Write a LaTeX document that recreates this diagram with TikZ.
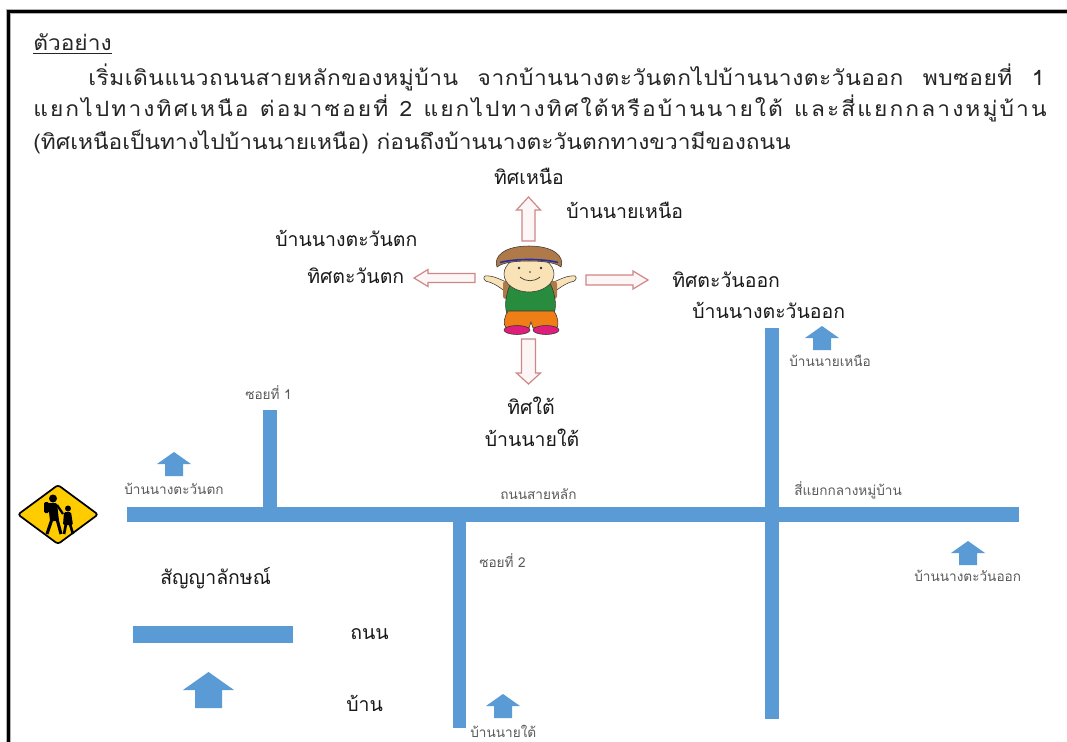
\documentclass[tikz,border=0pt]{standalone}
\usepackage{fontspec}
\setmainfont[Script=Thai]{Loma}
\newfontfamily\widethai[Script=Thai,FakeStretch=1.08]{Loma}
\newfontfamily\spreadthaiA[Script=Thai,FakeStretch=1.08,LetterSpace=2.5]{Loma}
\newfontfamily\spreadthaiB[Script=Thai,FakeStretch=1.08,LetterSpace=10]{Loma}
\definecolor{roadblue}{RGB}{91,155,213}
\definecolor{dirred}{RGB}{205,135,135}
\definecolor{dirfill}{RGB}{253,246,246}
\definecolor{labelgray}{RGB}{90,90,90}
\definecolor{signyellow}{RGB}{255,204,0}
\definecolor{skin}{RGB}{248,226,182}
\definecolor{hatbrown}{RGB}{176,122,72}
\definecolor{shirtgreen}{RGB}{40,140,62}
\definecolor{shortsorange}{RGB}{240,126,22}
\definecolor{shoepink}{RGB}{222,30,122}
\definecolor{bandblue}{RGB}{36,48,160}
\begin{document}
\begin{tikzpicture}[x=0.75pt,y=-0.75pt,
  road/.style={fill=roadblue},
  dirarrow/.style={draw=dirred, line width=0.9pt, fill=dirfill, line join=miter},
  maintext/.style={font=\widethai\fontsize{15.8}{18}\selectfont, inner sep=0pt, anchor=base west, text=black!85},
  midlabel/.style={font=\fontsize{14.6}{17}\selectfont, inner sep=0pt, text=black!90},
  smalllabel/.style={font=\fontsize{10.2}{12}\selectfont, inner sep=0pt, text=labelgray},
  outline/.style={draw=black!80, line width=0.4pt},
  house/.pic={\fill[roadblue] (0,0) -- (17,12) -- (9,12) -- (9,24) -- (-9,24) -- (-9,12) -- (-17,12) -- cycle;}
]
\useasboundingbox (0,0) rectangle (1067,742);
\fill[white] (0,0) rectangle (1067,742);

% page frame
\draw[black!30, line width=4pt] (8.5,742) -- (8.5,11.5) -- (1067,11.5);
\draw[black, line width=2.4pt] (8.5,742) -- (8.5,11.5) -- (1067,11.5);

% heading and paragraph
\node[maintext] (title) at (33,51) {\underline{ตัวอย่าง}};
\node[maintext] (line1) at (88,85) {\spreadthaiA\fontsize{15.8}{18}\selectfont\makebox[717pt][s]{เริ่มเดินแนวถนนสายหลักของหมู่บ้าน จากบ้านนางตะวันตกไปบ้านนางตะวันออก พบซอยที่ 1}};
\node[maintext] (line2) at (33,117) {\spreadthaiB\fontsize{15.8}{18}\selectfont\makebox[760pt][s]{แยกไปทางทิศเหนือ ต่อมาซอยที่ 2 แยกไปทางทิศใต้หรือบ้านนายใต้ และสี่แยกกลางหมู่บ้าน}};
\node[maintext] (line3) at (33,149) {(ทิศเหนือเป็นทางไปบ้านนายเหนือ) ก่อนถึงบ้านนางตะวันตกทางขวามีของถนน};

% compass arrows
\draw[dirarrow] (528.5,197) -- (540.5,210) -- (535,210) -- (535,241) -- (522,241) -- (522,210) -- (516.5,210) -- cycle;
\draw[dirarrow] (414,278) -- (428,269.5) -- (428,273.5) -- (475,273.5) -- (475,282.5) -- (428,282.5) -- (428,286.5) -- cycle;
\draw[dirarrow] (648,280) -- (633,271) -- (633,275) -- (586,275) -- (586,285) -- (633,285) -- (633,289) -- cycle;
\draw[dirarrow] (528.5,384) -- (540.5,373) -- (535.5,373) -- (535.5,339) -- (521.5,339) -- (521.5,373) -- (516.5,373) -- cycle;

% the walking child
\filldraw[fill=skin, outline] (511,284) .. controls (501,280) and (493,275) .. (485,276) .. controls (482,278) and (485,282) .. (489,282) .. controls (496,284) and (503,290) .. (510,295) -- cycle;
\filldraw[fill=skin, outline] (549,284) .. controls (559,280) and (567,275) .. (575,276) .. controls (578,278) and (575,282) .. (571,282) .. controls (564,284) and (557,290) .. (550,295) -- cycle;
\fill[hatbrown, rounded corners=2pt] (503,281) rectangle (512,299);
\fill[hatbrown, rounded corners=2pt] (548,281) rectangle (557,299);
\filldraw[fill=shirtgreen, outline] (511,283) .. controls (505,295) and (504,309) .. (508,316) -- (553,316) .. controls (557,309) and (556,295) .. (550,283) -- cycle;
\filldraw[fill=shortsorange, outline] (508,311) -- (554,311) .. controls (558,317) and (559,324) .. (557,328) -- (533,328) -- (531,322) -- (529,328) -- (506,328) .. controls (503,324) and (504,317) .. (508,311) -- cycle;
\filldraw[fill=shoepink, outline] (517,330) ellipse (13 and 4.5);
\filldraw[fill=shoepink, outline] (546,330) ellipse (13 and 4.5);
\filldraw[fill=skin, outline] (529,274) ellipse (25 and 18);
\filldraw[fill=hatbrown, outline] (497,267) .. controls (493,256) and (505,246) .. (529,246) .. controls (553,246) and (565,256) .. (561,267) .. controls (555,262) and (540,261) .. (529,261) .. controls (518,261) and (503,262) .. (497,267) -- cycle;
\draw[bandblue, line width=1.2pt] (500,262.5) .. controls (515,258.5) and (543,258.5) .. (558,262.5);
\fill[black!80] (519,268) circle (1.3) (541,268) circle (1.3) (530,272) circle (0.8);
\draw[black!80, line width=0.5pt] (520,277) .. controls (526,282) and (534,282) .. (540,277);

% compass labels
\node[midlabel, anchor=base] (north) at (529,184) {ทิศเหนือ};
\node[midlabel, anchor=base west] (northhouse) at (566,218) {บ้านนายเหนือ};
\node[midlabel, anchor=base west] (westhouse) at (275,246) {บ้านนางตะวันตก};
\node[midlabel, anchor=base west] (west) at (307,283) {ทิศตะวันตก};
\node[midlabel, anchor=base west] (east) at (672,287) {ทิศตะวันออก};
\node[midlabel, anchor=base west] (easthouse) at (692,318) {บ้านนางตะวันออก};
\node[midlabel, anchor=base] (south) at (531,414) {ทิศใต้};
\node[midlabel, anchor=base] (southhouse) at (532,446) {บ้านนายใต้};

% roads
\fill[road] (127,507) rectangle (1019,522);
\fill[road] (263,410) rectangle (277,507);
\fill[road] (453,522) rectangle (466,728);
\fill[road] (765,328) rectangle (779,719);

% houses
\pic at (174,452) {house};
\pic at (822,326) {house};
\pic at (968,541) {house};
\pic at (503,694) {house};

% map labels
\node[smalllabel, anchor=base west] (soi1) at (245,399) {ซอยที่ 1};
\node[smalllabel, anchor=base west] (wlabel) at (124,494) {บ้านนางตะวันตก};
\node[smalllabel, anchor=base west] (mainroad) at (500,499) {ถนนสายหลัก};
\node[smalllabel, anchor=base west] (cross) at (794,495) {สี่แยกกลางหมู่บ้าน};
\node[smalllabel, anchor=base west] (soi2) at (479,567) {ซอยที่ 2};
\node[smalllabel, anchor=base west] (nlabel) at (789,366) {บ้านนายเหนือ};
\node[smalllabel, anchor=base west] (elabel) at (914,581) {บ้านนางตะวันออก};
\node[smalllabel, anchor=base west] (slabel) at (470,737) {บ้านนายใต้};

% school crossing sign
\filldraw[fill=signyellow, draw=black, line width=1.3pt, rounded corners=2pt] (18,514.5) -- (58,485) -- (98,514.5) -- (58,544) -- cycle;
\fill (53,498.5) circle (4);
\fill[rounded corners=1pt] (48,503) -- (57,503) -- (59,521) -- (50,521) -- cycle;
\fill[rounded corners=1pt] (44,502) rectangle (49,513);
\draw[line width=2.3pt] (52,519) -- (47,534);
\draw[line width=2.3pt] (57,519) -- (61,534);
\draw[line width=1.7pt] (57,505) -- (63,514);
\fill (68,508.5) circle (3);
\fill[rounded corners=1pt] (64,512) -- (71,512) -- (73,525) -- (63,525) -- cycle;
\draw[line width=2pt] (66,524) -- (64,534);
\draw[line width=2pt] (70,524) -- (73,534);

% legend
\node[midlabel, anchor=base west] (legend) at (160,584) {สัญญาลักษณ์};
\fill[road] (133,626) rectangle (293,643);
\node[midlabel, anchor=base west] (roadkey) at (350,639) {ถนน};
\pic[scale=1.5] at (208.5,672) {house};
\node[midlabel, anchor=base west] (housekey) at (346,711) {บ้าน};
\end{tikzpicture}
\end{document}
